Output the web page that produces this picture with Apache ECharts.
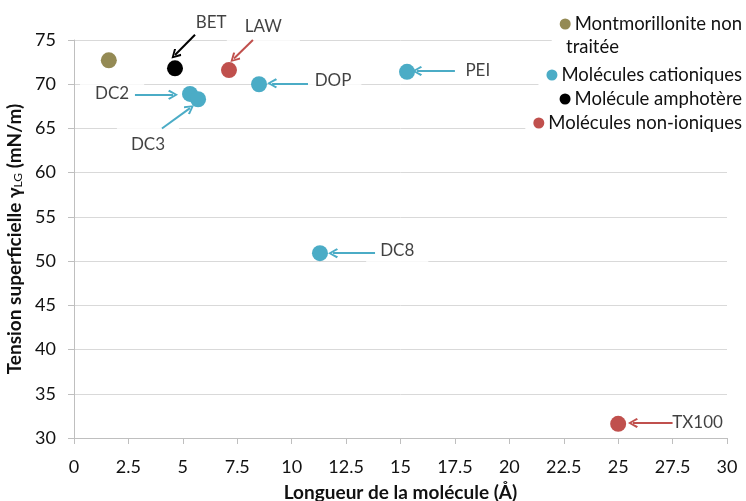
<!DOCTYPE html>
<html><head><meta charset="utf-8">
<script src="https://cdn.jsdelivr.net/npm/echarts@6/dist/echarts.min.js"></script>
<style>html,body{margin:0;padding:0;background:#fff}#c{width:746px;height:501px}</style>
</head><body><div id="c"></div>
<script>
// ---- data ----
const seriesNames = ['Montmorillonite non traitée', 'Molécules cationiques', 'Molécule amphotère', 'Molécules non-ioniques'];
const montmorilloniteX = [1.6];
const montmorilloniteY = [72.7];
const cationicX = [5.33, 5.7, 8.5, 15.3, 11.3];
const cationicY = [68.9, 68.3, 70.0, 71.4, 50.9];
const amphotericX = [4.64];
const amphotericY = [71.8];
const nonionicX = [7.12, 25.0];
const nonionicY = [71.6, 31.6];
const labelNames = ['BET', 'LAW', 'DC2', 'DC3', 'DOP', 'PEI', 'DC8', 'TX100'];
const labelX = [6.3, 8.7, 1.75, 3.4, 11.9, 18.55, 14.85, 28.65];
const labelY = [77.0, 76.5, 69.0, 63.2, 70.4, 71.5, 51.2, 31.8];
const arrowFromX = [5.56, 8.22, 2.8, 4.04, 10.75, 17.5, 13.83, 27.5];
const arrowFromY = [75.6, 75.0, 68.8, 65.0, 70.1, 71.5, 50.9, 31.7];
const arrowToX = [4.64, 7.35, 4.55, 5.33, 9.1, 15.76, 11.9, 25.68];
const arrowToY = [73.3, 72.9, 68.8, 67.3, 70.1, 71.5, 50.9, 31.7];
const arrowGroup = [2, 3, 1, 1, 1, 1, 1, 3];
const xMin = 0, xMax = 30, xStep = 2.5;
const yMin = 30, yMax = 75, yStep = 5;

// ---- styles ----
const colors = ['#948A54', '#4BACC6', '#000000', '#C0504D'];
const FONT = 'Lato';
const TXT = '#111111';
const labelPad = {BET: [5, 16], LAW: [7, 18], DC2: [3, 15], DC3: [9, 14], DOP: [3, 10], PEI: [2, 14], DC8: [6, 14], TX100: [3, 8]};
const arrowSym = 'path://M5,0 L10,8 L8.4,9.2 L5,3.2 L1.6,9.2 L0,8 Z';

const zip = (xs, ys) => xs.map((x, i) => [x, ys[i]]);
const pointSets = [zip(montmorilloniteX, montmorilloniteY), zip(cationicX, cationicY), zip(amphotericX, amphotericY), zip(nonionicX, nonionicY)];

const gridLeft = 74, gridRight = 19, gridTop = 40, gridBottom = 63;
const plotH = 501 - gridTop - gridBottom;
const extra = 5; // hidden overlay axis extends 5 units above yMax for annotations
const overlayTop = gridTop - extra * plotH / (yMax - yMin);

const series = [];
pointSets.forEach((pts, i) => {
  series.push({
    name: seriesNames[i], type: 'scatter', xAxisIndex: 0, yAxisIndex: 0,
    data: pts, symbolSize: 16, itemStyle: {color: colors[i], opacity: 1}, z: 5
  });
});
// annotation labels
series.push({
  type: 'scatter', xAxisIndex: 1, yAxisIndex: 1, z: 2, silent: true,
  symbolSize: 1, itemStyle: {color: 'rgba(0,0,0,0)'},
  data: labelNames.map((n, i) => ({
    value: [labelX[i], labelY[i]], name: n,
    label: {show: true, position: 'inside', formatter: n, color: TXT, fontFamily: FONT, fontSize: 17,
      backgroundColor: '#ffffff', padding: labelPad[n]}
  }))
});
// arrows by colour group
[1, 2, 3].forEach(g => {
  const d = [];
  labelNames.forEach((n, i) => {
    if (arrowGroup[i] === g) d.push({coords: [[arrowFromX[i], arrowFromY[i]], [arrowToX[i], arrowToY[i]]]});
  });
  series.push({
    type: 'lines', coordinateSystem: 'cartesian2d', xAxisIndex: 1, yAxisIndex: 1, z: 4, silent: true,
    symbol: ['none', arrowSym], symbolSize: [11, 10],
    lineStyle: {color: colors[g], width: 2, opacity: 1, curveness: 0},
    data: d
  });
});

const legendTops = [12.5, 63.5, 87.5, 111.5];
const legends = seriesNames.map((n, i) => ({
  data: [n], right: 4, top: legendTops[i], orient: 'vertical', icon: 'circle',
  itemWidth: 11, itemHeight: 11, selectedMode: false,
  backgroundColor: '#ffffff', padding: i === 0 ? [2, 0, 16, 8] : [2, 0, 2, 8],
  formatter: i === 0 ? 'Montmorillonite non' : n,
  textStyle: {fontFamily: FONT, fontSize: 18.5, color: TXT, padding: [0, 0, 0, -1]}
}));

const option = {
  animation: false,
  backgroundColor: '#ffffff',
  grid: [
    {left: gridLeft, right: gridRight, top: gridTop, bottom: gridBottom, containLabel: false, outerBoundsMode: 'none'},
    {left: gridLeft, right: gridRight, top: overlayTop, bottom: gridBottom, containLabel: false, outerBoundsMode: 'none'}
  ],
  legend: legends,
  graphic: [{
    type: 'text', left: 566, top: 38, z: 10,
    style: {text: 'traitée', fontFamily: FONT, fontSize: 18.5, fill: TXT}
  }],
  xAxis: [{
    gridIndex: 0, type: 'value', min: xMin, max: xMax, interval: xStep,
    name: 'Longueur de la molécule (Å)', nameLocation: 'middle', nameGap: 45,
    nameTextStyle: {fontFamily: FONT, fontSize: 19, fontWeight: 'bold', color: TXT},
    axisLine: {show: true, lineStyle: {color: '#BFBFBF', width: 1}},
    axisTick: {show: true, length: 6, lineStyle: {color: '#BFBFBF'}},
    axisLabel: {fontFamily: FONT, fontSize: 18, color: TXT, margin: 20},
    splitLine: {show: false}
  }, {
    gridIndex: 1, type: 'value', min: xMin, max: xMax, show: false
  }],
  yAxis: [{
    gridIndex: 0, type: 'value', min: yMin, max: yMax, interval: yStep,
    name: 'Tension superficielle γ{sub|LG} (mN/m)', nameLocation: 'middle', nameGap: 41, nameRotate: 90,
    nameTextStyle: {fontFamily: FONT, fontSize: 19, fontWeight: 'bold', color: TXT,
      rich: {sub: {fontFamily: FONT, fontSize: 12, fontWeight: 'normal', color: TXT, verticalAlign: 'bottom', padding: [7, 0, 0, 0]}}},
    axisLine: {show: true, lineStyle: {color: '#BFBFBF', width: 1}},
    axisTick: {show: true, length: 6, lineStyle: {color: '#BFBFBF'}},
    axisLabel: {fontFamily: FONT, fontSize: 18, color: TXT, margin: 18},
    splitLine: {show: true, lineStyle: {color: '#D9D9D9', width: 1}}
  }, {
    gridIndex: 1, type: 'value', min: yMin, max: yMax + extra, show: false
  }],
  series: series
};
const chart = echarts.init(document.getElementById('c'), null, {renderer: 'canvas'});
chart.setOption(option);
</script>
</body></html>
